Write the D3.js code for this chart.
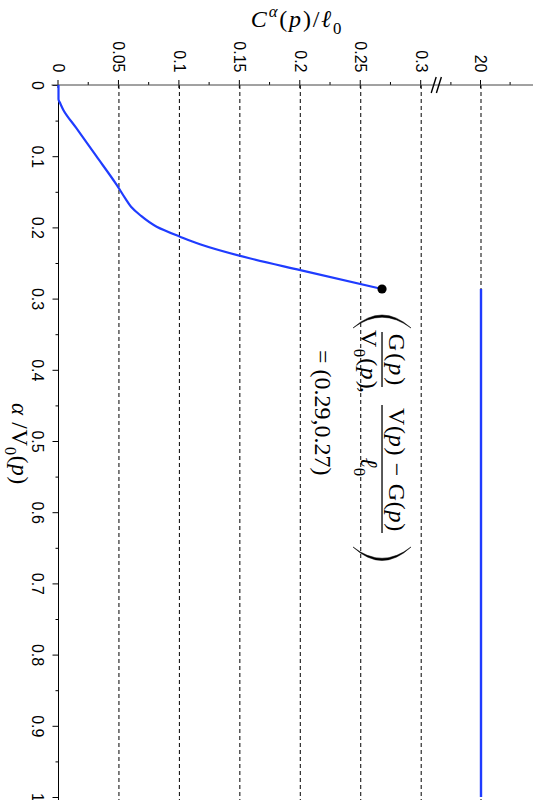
<!DOCTYPE html>
<html>
<head>
<meta charset="utf-8">
<script src="https://cdn.jsdelivr.net/npm/d3@7"></script>
<style>
  body { margin: 0; background: #fff; }
  svg { display: block; }
  .tick text { font-family: "Liberation Sans", Arial, sans-serif; font-size: 16px; fill: #000; }
  .math { font-family: "Liberation Serif", "Times New Roman", serif; fill: #000; }
</style>
</head>
<body>
<svg id="chart" width="533" height="800"></svg>
<script>
// Cost curve: alpha / V0(p) against C^alpha(p) / l0
const alphaValues = [0, 0.02, 0.026, 0.035, 0.06, 0.1, 0.14, 0.16, 0.171, 0.1826, 0.199, 0.213, 0.2237, 0.2434, 0.26, 0.2865];
const costValues  = [0, 0, 0.0015, 0.004, 0.0145, 0.0313, 0.048, 0.0555, 0.06, 0.0674, 0.0812, 0.1005, 0.117, 0.158, 0.2, 0.2676];

// Past the end point the cost sits on the saturated level
const plateauAlpha = [0.2865, 1];
const plateauCost  = [20, 20];

// End point of the finite branch: (G(p)/V0(p), (V(p) - G(p))/l0)
const endAlpha = 0.2865;
const endCost  = 0.2676;

// Axis ticks
const alphaTicks = [0, 0.1, 0.2, 0.3, 0.4, 0.5, 0.6, 0.7, 0.8, 0.9, 1];
const alphaMinor = [0.05, 0.15, 0.25, 0.35, 0.45, 0.55, 0.65, 0.75, 0.85, 0.95];
const costTicks  = [0, 0.05, 0.1, 0.15, 0.2, 0.25, 0.3, 20];
const costMinor  = [0.025, 0.075, 0.125, 0.175, 0.225, 0.275, 19.5, 20.5];
const gridTicks  = [0.05, 0.1, 0.15, 0.2, 0.25, 0.3, 20];
const costBreak  = 0.3125;

const svg = d3.select("#chart");
const blue = "#1f3cff";

// The plot is laid out in a frame turned a quarter turn clockwise:
// alpha runs along local x (down the page), cost along local -y (right).
const originX = 58.5, originY = 85;
const plot = svg.append("g")
  .attr("transform", `translate(${originX},${originY}) rotate(90)`);

const alpha = d3.scaleLinear().domain([0, 1]).range([0, 712]);
// broken cost axis: linear up to the break, then a short segment around 20
const cost = d3.scaleLinear()
  .domain([0, costBreak, 19.5, 20.5])
  .range([0, -377.8, -392.9, -452.1]);

// dashed guide lines
plot.append("g")
  .selectAll("line")
  .data(gridTicks)
  .join("line")
  .attr("x1", 0)
  .attr("x2", alpha(1) + 4)
  .attr("y1", d => cost(d))
  .attr("y2", d => cost(d))
  .attr("stroke", "#000")
  .attr("stroke-width", 1)
  .attr("stroke-dasharray", "4,3");

// alpha axis (left edge of the page)
const alphaAxis = plot.append("g")
  .call(d3.axisBottom(alpha).tickValues(alphaTicks).tickSize(6).tickPadding(9)
    .tickFormat(d3.format("~g")));
alphaAxis.select(".domain").remove();
const alphaMinorAxis = plot.append("g")
  .call(d3.axisBottom(alpha).tickValues(alphaMinor).tickSize(3).tickFormat(""));
alphaMinorAxis.select(".domain").remove();
plot.append("line")
  .attr("x1", 0).attr("x2", alpha(1) + 4)
  .attr("y1", 0).attr("y2", 0)
  .attr("stroke", "#000").attr("stroke-width", 1);

// cost axis (top edge of the page)
const costAxis = plot.append("g")
  .call(d3.axisLeft(cost).tickValues(costTicks).tickSize(5).tickPadding(7.5)
    .tickFormat(d3.format("~g")));
costAxis.select(".domain").remove();
costAxis.selectAll(".tick line").attr("x1", 3);
const costMinorAxis = plot.append("g")
  .call(d3.axisLeft(cost).tickValues(costMinor).tickSize(3).tickFormat(""));
costMinorAxis.select(".domain").remove();
plot.append("line")
  .attr("x1", 0).attr("x2", 0)
  .attr("y1", 7).attr("y2", -474.5)
  .attr("stroke", "#444").attr("stroke-width", 1);

// break marks on the cost axis
const bx = cost(costBreak);
[-2.6, 2.6].forEach(off => {
  plot.append("line")
    .attr("x1", -8).attr("y1", bx + off - 2.5)
    .attr("x2", 8).attr("y2", bx + off + 2.5)
    .attr("stroke", "#000").attr("stroke-width", 1.4);
});

// finite branch of the curve
const curvePts = alphaValues.map((a, i) => ({ a, c: costValues[i] }));
const line = d3.line()
  .x(d => alpha(d.a))
  .y(d => cost(d.c))
  .curve(d3.curveMonotoneX);
plot.append("path")
  .datum(curvePts)
  .attr("d", line)
  .attr("fill", "none")
  .attr("stroke", blue)
  .attr("stroke-width", 2.2)
  .attr("stroke-linejoin", "round");

// saturated branch
const plateauPts = plateauAlpha.map((a, i) => ({ a, c: plateauCost[i] }));
plot.append("path")
  .datum(plateauPts)
  .attr("d", d3.line().x(d => alpha(d.a)).y(d => cost(d.c)))
  .attr("fill", "none")
  .attr("stroke", blue)
  .attr("stroke-width", 2.4);

// end point
plot.append("circle")
  .attr("cx", alpha(endAlpha))
  .attr("cy", cost(endCost))
  .attr("r", 4.6)
  .attr("fill", "#000");

// text helper: parts are {t, i (italic), sub, sup}
function mathText(parent, x, y, parts, size, anchor) {
  const t = parent.append("text")
    .attr("class", "math")
    .attr("x", x).attr("y", y)
    .attr("font-size", size)
    .attr("text-anchor", anchor || "middle");
  let shift = 0;
  parts.forEach(p => {
    const s = t.append("tspan").text(p.t);
    let target = 0;
    if (p.sub) { target = size * 0.28; s.attr("font-size", size * 0.7); }
    if (p.sup) { target = -size * 0.42; s.attr("font-size", size * 0.7); }
    if (target !== shift) { s.attr("dy", target - shift); shift = target; }
    if (p.i) s.attr("font-style", "italic");
    if (p.dx) s.attr("dx", p.dx);
  });
  return t;
}

// annotation at the end point
const fmt = d3.format(".2f");
const ann = plot.append("g")
  .attr("transform", `translate(${alpha(endAlpha)},${cost(endCost)})`);
const fs = 24;
// big parentheses
ann.append("path")
  .attr("d", "M39,-29 Q13,0 39,29 Q17.5,0 39,-29 Z")
  .attr("fill", "#000").attr("stroke", "#000").attr("stroke-width", 0.5);
ann.append("path")
  .attr("d", "M258,-29 Q285,0 258,29 Q280.5,0 258,-29 Z")
  .attr("fill", "#000").attr("stroke", "#000").attr("stroke-width", 0.5);
// fraction bars
ann.append("line").attr("x1", 43).attr("x2", 98).attr("y1", 0).attr("y2", 0)
  .attr("stroke", "#000").attr("stroke-width", 1.3);
ann.append("line").attr("x1", 116).attr("x2", 244).attr("y1", 0).attr("y2", 0)
  .attr("stroke", "#000").attr("stroke-width", 1.3);
mathText(ann, 71.5, -6.5, [{t: "G"}, {t: "("}, {t: "p", i: true}, {t: ")"}], fs)
  .attr("letter-spacing", 2);
mathText(ann, 71, 21, [{t: "V"}, {t: "0", sub: true}, {t: "("}, {t: "p", i: true}, {t: ")"}], fs)
  .attr("letter-spacing", 1.2);
mathText(ann, 98, 21, [{t: ","}], fs, "start");
mathText(ann, 181, -6.5, [{t: "V"}, {t: "("}, {t: "p", i: true}, {t: ") \u2212 G("}, {t: "p", i: true}, {t: ")"}], fs)
  .attr("letter-spacing", 0.7);
mathText(ann, 178, 21, [{t: "\u2113", i: true}, {t: "0", sub: true}], fs);
mathText(ann, 61, 67, [{t: `= (${fmt(endAlpha)},${fmt(endCost)})`}], fs, "start");

// axis titles (page coordinates)
mathText(svg, 297, 27, [
  {t: "C", i: true}, {t: "\u03b1", i: true, sup: true}, {t: "("}, {t: "p", i: true},
  {t: ")/"}, {t: "\u2113", i: true}, {t: "0", sub: true}
], 24).attr("letter-spacing", 1.8);

const at = svg.append("g")
  .attr("transform", `translate(11.5,${originY + alpha(0.5) + 3}) rotate(90)`);
mathText(at, 0, 0, [
  {t: "\u03b1", i: true}, {t: " /V"}, {t: "0", sub: true}, {t: "("}, {t: "p", i: true}, {t: ")"}
], 23).attr("letter-spacing", 0.8);
</script>
</body>
</html>
